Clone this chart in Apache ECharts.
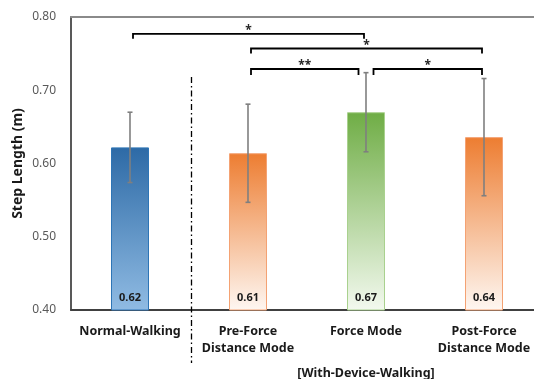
<!DOCTYPE html>
<html>
<head>
<meta charset="utf-8">
<script src="https://cdn.jsdelivr.net/npm/echarts@6/dist/echarts.min.js"></script>
<style>
  html, body { margin: 0; padding: 0; background: #fff; }
  #chart { width: 534px; height: 379px; }
</style>
</head>
<body>
<div id="chart"></div>
<script>
// Step length per walking condition (mean and standard deviation, metres)
const categories = ['Normal-Walking', 'Pre-Force\nDistance Mode', 'Force Mode', 'Post-Force\nDistance Mode'];
const means = [0.622, 0.614, 0.670, 0.636];
const sds = [0.048, 0.067, 0.054, 0.080];
const yTicks = [0.40, 0.50, 0.60, 0.70, 0.80];
const groupCaption = '[With-Device-Walking]';

// Significance brackets: [from category, to category, bracket height, stars]
const brackets = [
  [0, 2, 0.777, '*'],
  [1, 3, 0.757, '*'],
  [1, 2, 0.729, '**'],
  [2, 3, 0.729, '*']
];

const FONT = 'Noto Sans';

// top colour, bottom colour, outline
const palette = [
  ['#2d6aa6', '#90bbe3', '#2e75b6'],
  ['#ed7d31', '#fef7f2', '#f4a273'],
  ['#6fad45', '#f3f9ef', '#a9d18e'],
  ['#ed7d31', '#fef7f2', '#f4a273']
];

const barData = means.map((v, i) => ({
  value: v,
  itemStyle: {
    color: new echarts.graphic.LinearGradient(0, 0, 0, 1, [
      { offset: 0, color: palette[i][0] },
      { offset: 1, color: palette[i][1] }
    ]),
    borderColor: palette[i][2],
    borderWidth: 1
  }
}));

const errData = means.map((v, i) => [i, v - sds[i], v + sds[i]]);

const chart = echarts.init(document.getElementById('chart'), null, { renderer: 'canvas' });

chart.setOption({
  animation: false,
  grid: { left: 71, right: -9, top: 17, bottom: 69, containLabel: false, outerBoundsMode: 'none' },
  xAxis: [
    {
      type: 'category',
      data: categories,
      axisLine: { lineStyle: { color: '#404040', width: 2 } },
      axisTick: { show: false },
      axisLabel: {
        interval: 0,
        color: '#1a1a1a', fontFamily: FONT, fontSize: 12.5, fontWeight: 'bold',
        margin: 13, lineHeight: 17
      }
    },
    {
      type: 'category',
      position: 'top',
      data: categories,
      axisLine: { lineStyle: { color: '#8a8a8a', width: 2 } },
      axisTick: { show: false },
      axisLabel: { show: false }
    }
  ],
  yAxis: {
    type: 'value',
    min: yTicks[0],
    max: yTicks[yTicks.length - 1],
    interval: 0.1,
    name: 'Step Length (m)',
    nameLocation: 'middle',
    nameRotate: 90,
    nameGap: 46,
    nameMoveOverlap: false,
    nameTextStyle: { color: '#1a1a1a', fontFamily: FONT, fontSize: 14, fontWeight: 'bold' },
    axisLine: { show: true, lineStyle: { color: '#595959', width: 2 } },
    axisTick: { show: false },
    splitLine: { show: false },
    axisLabel: {
      color: '#595959', fontFamily: FONT, fontSize: 12, margin: 15,
      formatter: v => v.toFixed(2)
    }
  },
  series: [
    {
      type: 'bar',
      data: barData,
      barWidth: 38,
      label: {
        show: true,
        position: 'insideBottom',
        distance: 7,
        color: '#1a1a1a',
        fontFamily: FONT,
        fontSize: 11,
        fontWeight: 'bold',
        formatter: p => p.value.toFixed(2)
      }
    },
    {
      // error bars (mean ± SD)
      type: 'custom',
      data: errData,
      z: 5,
      renderItem: (params, api) => {
        const i = api.value(0);
        const lo = api.coord([i, api.value(1)]);
        const hi = api.coord([i, api.value(2)]);
        const c = 2.5;
        const style = { stroke: '#7f7f7f', lineWidth: 1.6 };
        return {
          type: 'group',
          children: [
            { type: 'line', shape: { x1: lo[0], y1: lo[1], x2: hi[0], y2: hi[1] }, style },
            { type: 'line', shape: { x1: lo[0] - c, y1: lo[1], x2: lo[0] + c, y2: lo[1] }, style },
            { type: 'line', shape: { x1: hi[0] - c, y1: hi[1], x2: hi[0] + c, y2: hi[1] }, style }
          ]
        };
      }
    },
    {
      // significance brackets
      type: 'custom',
      data: brackets,
      z: 6,
      clip: false,
      renderItem: (params, api) => {
        const b = brackets[params.dataIndex];
        const a = api.coord([b[0], b[2]]);
        const e = api.coord([b[1], b[2]]);
        // ends that meet another bracket at the same height are pulled further in
        const touches = cat => brackets.some((o, k) =>
          k !== params.dataIndex && o[2] === b[2] && (o[0] === cat || o[1] === cat));
        const xl = a[0] + (touches(b[0]) ? 7.5 : 3);
        const xr = e[0] - (touches(b[1]) ? 7.5 : 2);
        const y = a[1];
        const drop = touches(b[0]) || touches(b[1]) ? 6 : 5;
        const style = { stroke: '#000', lineWidth: 1.8, fill: null };
        return {
          type: 'group',
          children: [
            { type: 'polyline', shape: { points: [[xl, y + drop], [xl, y], [xr, y], [xr, y + drop]] }, style },
            {
              type: 'text',
              style: {
                text: b[3], x: (xl + xr) / 2, y: y - 3,
                align: 'center', verticalAlign: 'middle',
                font: 'bold 12px "' + FONT + '"', fill: '#262626'
              }
            }
          ]
        };
      }
    },
    {
      // divider between normal walking and the with-device conditions, plus group caption
      type: 'custom',
      data: [[0, 1]],
      z: 6,
      clip: false,
      renderItem: (params, api) => {
        const p0 = api.coord([0, 0.4]);
        const p1 = api.coord([1, 0.4]);
        const p2 = api.coord([2, 0.4]);
        const top = api.coord([0, 0.718]);
        const x = (p0[0] + p1[0]) / 2 + 2.5;
        return {
          type: 'group',
          children: [
            {
              type: 'line',
              shape: { x1: x, y1: top[1], x2: x, y2: p0[1] + 53 },
              style: { stroke: '#000', lineWidth: 1.3, lineDash: [6, 3, 1.5, 3] }
            },
            {
              type: 'text',
              style: {
                text: groupCaption, x: p2[0], y: p2[1] + 63,
                align: 'center', verticalAlign: 'middle',
                font: 'bold 12.5px "' + FONT + '"', fill: '#1a1a1a'
              }
            }
          ]
        };
      }
    }
  ]
});
</script>
</body>
</html>
